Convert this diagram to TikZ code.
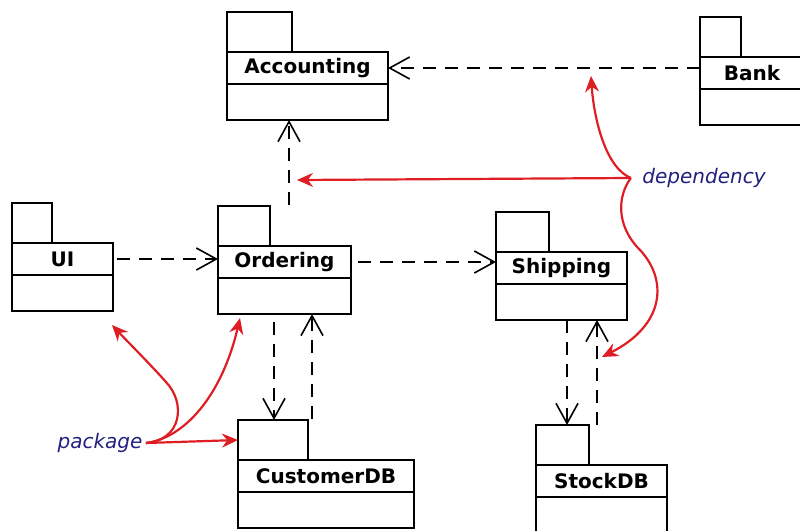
\documentclass[tikz,border=0pt]{standalone}
\usepackage{fontspec}
\usepackage{tikz}
\usetikzlibrary{arrows.meta,positioning}
\usepackage{xcolor}
\newfontfamily\pkgfamily{DejaVu Sans}
\newfontfamily\notefamily{DejaVu Sans}
\newcommand{\pkgfont}{\pkgfamily\bfseries\fontsize{20}{23}\selectfont}
\newcommand{\notefont}{\notefamily\itshape\fontsize{20}{24}\selectfont}
\definecolor{notered}{RGB}{222,30,36}
\definecolor{notenavy}{RGB}{32,32,128}
\tikzstyle{pkgname} = [rectangle, draw, line width=2pt, inner sep=0pt, outer sep=0pt, minimum height=32pt, anchor=north west, font=\pkgfont]
\tikzstyle{pkgbody} = [rectangle, draw, line width=2pt, inner sep=0pt, outer sep=0pt, minimum height=36pt]
\tikzstyle{pkgtab} = [rectangle, draw, line width=2pt, inner sep=0pt, outer sep=0pt, minimum height=40pt]
\tikzstyle{deparrow} = [line width=1.6pt, dash pattern=on 13pt off 9pt, -{Straight Barb[length=20pt,width=22pt]}]
\tikzstyle{redarrow} = [line width=2.2pt, color=notered, -{Stealth[length=16pt,width=14pt]}]
\tikzstyle{notelabel} = [font=\notefont, text=notenavy]

\begin{document}
\begin{tikzpicture}[x=1pt, y=-1pt]
\clip (0,0) rectangle (800,530);

% Packages
\node[pkgname, minimum width=161] (acc) at (227,52) {Accounting};
\node[pkgbody, minimum width=161, below=0pt of acc] (acc-body) {};
\node[pkgtab, minimum width=65, above right=0pt of acc.north west] (acc-tab) {};

\node[pkgname, minimum width=104] (bank) at (700,57) {Bank};
\node[pkgbody, minimum width=104, below=0pt of bank] (bank-body) {};
\node[pkgtab, minimum width=41, above right=0pt of bank.north west] (bank-tab) {};

\node[pkgname, minimum width=101] (ui) at (12,243) {UI};
\node[pkgbody, minimum width=101, below=0pt of ui] (ui-body) {};
\node[pkgtab, minimum width=40, above right=0pt of ui.north west] (ui-tab) {};

\node[pkgname, minimum width=133] (ord) at (218,246) {Ordering};
\node[pkgbody, minimum width=133, below=0pt of ord] (ord-body) {};
\node[pkgtab, minimum width=52, above right=0pt of ord.north west] (ord-tab) {};

\node[pkgname, minimum width=131] (ship) at (496,252) {Shipping};
\node[pkgbody, minimum width=131, below=0pt of ship] (ship-body) {};
\node[pkgtab, minimum width=53, above right=0pt of ship.north west] (ship-tab) {};

\node[pkgname, minimum width=176] (cdb) at (238,460) {CustomerDB};
\node[pkgbody, minimum width=176, below=0pt of cdb] (cdb-body) {};
\node[pkgtab, minimum width=70, above right=0pt of cdb.north west] (cdb-tab) {};

\node[pkgname, minimum width=131] (stock) at (536,465) {StockDB};
\node[pkgbody, minimum width=131, below=0pt of stock] (stock-body) {};
\node[pkgtab, minimum width=53, above right=0pt of stock.north west] (stock-tab) {};

% Dependencies
\coordinate (o2a) at (289,205);
\coordinate (o2c) at (274,322);
\coordinate (c2o) at (312,419);
\coordinate (s2s) at (567,0);
\coordinate (s2h) at (597,0);
\draw[deparrow] (bank.west |- acc.east) -- (acc.east);
\draw[deparrow] ([xshift=4pt]ui.east) -- (ui.east -| ord.west);
\draw[deparrow] ([xshift=7pt]ord.east) -- (ord.east -| ship.west);
\draw[deparrow] (o2a) -- (o2a |- acc-body.south);
\draw[deparrow] (o2c) -- (o2c |- cdb-tab.north);
\draw[deparrow] (c2o) -- (c2o |- ord-body.south);
\draw[deparrow] (s2s |- ship-body.south) -- (s2s |- stock-tab.north);
\draw[deparrow] (s2h |- stock-tab.north) -- (s2h |- ship-body.south);

% Notes
\node[notelabel] (depl) at (704,178) {dependency};
\node[notelabel] (pkgl) at (100,443) {package};
\coordinate (depstart) at ([xshift=-8pt]depl.west);
\coordinate (accdep) at (297,180);
\coordinate (bankdep) at (591,76);
\coordinate (stockdep) at (602,357);
\coordinate (uidep) at (112,325);
\coordinate (orddep) at (240,318);
\draw[redarrow] (depstart) -- (accdep);
\draw[redarrow] (depstart) .. controls (606,168) and (594,120) .. (bankdep);
\draw[redarrow] (depstart) .. controls (618,195) and (615,225) .. (640,250) .. controls (668,280) and (665,325) .. (stockdep);
\draw[redarrow] (pkgl.east) .. controls (182,440) and (186,403) .. (166,382) .. controls (150,364) and (126,340) .. (uidep);
\draw[redarrow] (pkgl.east) .. controls (185,438) and (222,395) .. (orddep);
\draw[redarrow] (pkgl.east) -- (cdb-tab.west);
\end{tikzpicture}
\end{document}
